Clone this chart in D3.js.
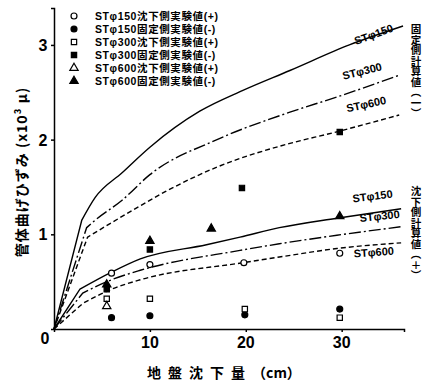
<!DOCTYPE html>
<html>
<head>
<meta charset="utf-8">
<script src="https://cdn.jsdelivr.net/npm/d3@7"></script>
<style>
  body { margin: 0; background: #fff; }
  text { font-family: "Noto Sans CJK JP", "DejaVu Sans", sans-serif; font-weight: bold; fill: #000; }
  .latin { font-family: "Liberation Sans", "Noto Sans CJK JP", sans-serif; }
</style>
</head>
<body>
<div id="chart"></div>
<script>
// calculated curves, [settlement cm, strain x10^3]
var fixST150 = [[0,0],[2.9,1.15],[4.3,1.39],[7.1,1.65],[10,1.92],[15.2,2.3],[19.7,2.52],[24.6,2.73],[30.8,3.0],[36.4,3.2]];
var fixST300 = [[0,0],[3.4,1.07],[4.3,1.15],[7.1,1.36],[10,1.63],[17,2.0],[24.6,2.29],[29.5,2.45],[36,2.68]];
var fixST600 = [[0,0],[3.5,0.97],[5.3,1.08],[8.8,1.29],[11.6,1.45],[17,1.71],[24.6,1.96],[29,2.07],[36,2.26]];
var setST150 = [[0,0],[2.7,0.42],[6,0.6],[9,0.74],[15.9,0.89],[19.4,0.97],[23.5,1.07],[29.5,1.17],[36.2,1.27]];
var setST300 = [[0,0],[3,0.38],[6,0.52],[9,0.62],[19.4,0.83],[23.5,0.9],[29.5,0.99],[36.2,1.08]];
var setST600 = [[0,0],[3,0.27],[6,0.42],[9,0.52],[19.7,0.7],[23.5,0.76],[29.5,0.85],[36.2,0.91]];

// measured values
var expST150set = [[6,0.59],[10,0.68],[19.8,0.7],[29.8,0.8]];
var expST150fix = [[6,0.12],[10,0.14],[19.9,0.15],[29.8,0.21]];
var expST300set = [[5.5,0.32],[10,0.32],[19.9,0.21],[29.8,0.12]];
var expST300fix = [[5.5,0.42],[10,0.84],[19.6,1.49],[29.8,2.08]];
var expST600set = [[5.5,0.24]];
var expST600fix = [[5.5,0.47],[10,0.93],[16.4,1.06],[29.8,1.19]];

var legendLabels = ["STφ150沈下側実験値(+)", "STφ150固定側実験値(-)", "STφ300沈下側実験値(+)",
                    "STφ300固定側実験値(-)", "STφ600沈下側実験値(+)", "STφ600固定側実験値(-)"];
var xTicks = [10, 20, 30];
var yTicks = [1, 2, 3];

var width = 425, height = 383;

var svg = d3.select("#chart").append("svg")
    .attr("width", width)
    .attr("height", height);

var x = d3.scaleLinear().domain([0, 36.5]).range([54, 404]);
var y = d3.scaleLinear().domain([0, 3.39]).range([329, 8]);

// axes
svg.append("g")
    .attr("transform", "translate(0,329)")
    .call(d3.axisBottom(x).tickValues(xTicks).tickSize(3).tickFormat(""))
    .call(function(g) { g.selectAll("path, line").attr("stroke", "#000").attr("stroke-width", 1.5); });

svg.append("g")
    .attr("transform", "translate(54,0)")
    .call(d3.axisLeft(y).tickValues(yTicks).tickSize(3).tickFormat(""))
    .call(function(g) { g.selectAll("path, line").attr("stroke", "#000").attr("stroke-width", 1.5); });

svg.selectAll(".xlab")
    .data(xTicks)
    .enter().append("text")
    .attr("class", "latin")
    .attr("x", function(d) { return x(d); })
    .attr("y", 348)
    .attr("text-anchor", "middle")
    .style("font-size", "16px")
    .text(function(d) { return d; });

svg.selectAll(".ylab")
    .data(yTicks)
    .enter().append("text")
    .attr("class", "latin")
    .attr("x", 43)
    .attr("y", function(d) { return y(d) + 6; })
    .attr("text-anchor", "middle")
    .style("font-size", "16px")
    .text(function(d) { return d; });

svg.append("text").attr("class", "latin").attr("x", 45).attr("y", 344).attr("text-anchor", "middle")
    .style("font-size", "16px").text("0");

// axis titles
var xTitle = svg.append("text")
    .attr("x", 147).attr("y", 378)
    .style("font-size", "14px");
xTitle.append("tspan").style("letter-spacing", "7px").text("地盤沈下量");
xTitle.append("tspan").text("（cm）");

svg.append("text")
    .attr("transform", "translate(27,172) rotate(-90)")
    .attr("text-anchor", "middle")
    .style("font-size", "14px")
    .style("letter-spacing", "1px")
    .text("管体曲げひずみ (x10³  μ)");

// curves: straight rise to the knee, smooth after it
var line = d3.line()
    .x(function(d) { return x(d[0]); })
    .y(function(d) { return y(d[1]); })
    .curve(d3.curveMonotoneX);

function curvePath(data) {
    return "M" + x(data[0][0]) + "," + y(data[0][1]) + "L" + line(data.slice(1)).slice(1);
}

var curves = [
    { data: fixST150, dash: null },
    { data: fixST300, dash: "12,3,2,3" },
    { data: fixST600, dash: "5,3" },
    { data: setST150, dash: null },
    { data: setST300, dash: "12,3,2,3" },
    { data: setST600, dash: "5,3" }
];

svg.selectAll(".curve")
    .data(curves)
    .enter().append("path")
    .attr("class", "curve")
    .attr("fill", "none")
    .attr("stroke", "#000")
    .attr("stroke-width", 1.4)
    .attr("stroke-dasharray", function(d) { return d.dash; })
    .attr("d", function(d) { return curvePath(d.data); });

// markers
var symCircle = d3.symbol().type(d3.symbolCircle).size(28);
var symSquare = d3.symbol().type(d3.symbolSquare).size(28);
var symTri = d3.symbol().type(d3.symbolTriangle).size(30);

var series = [
    { data: expST150set, sym: symCircle, filled: false },
    { data: expST150fix, sym: symCircle, filled: true },
    { data: expST300set, sym: symSquare, filled: false },
    { data: expST300fix, sym: symSquare, filled: true },
    { data: expST600set, sym: symTri, filled: false },
    { data: expST600fix, sym: symTri, filled: true }
];

series.forEach(function(s) {
    svg.selectAll(null)
        .data(s.data)
        .enter().append("path")
        .attr("d", s.sym())
        .attr("transform", function(d) { return "translate(" + x(d[0]) + "," + y(d[1]) + ")"; })
        .attr("fill", s.filled ? "#000" : "#fff")
        .attr("stroke", "#000")
        .attr("stroke-width", 1.2);
});

// legend
var legend = svg.selectAll(".legend")
    .data(series)
    .enter().append("g")
    .attr("transform", function(d, i) { return "translate(74," + (16 + i * 13) + ")"; });

legend.append("path")
    .attr("d", function(d) { return d.sym(); })
    .attr("fill", function(d) { return d.filled ? "#000" : "#fff"; })
    .attr("stroke", "#000")
    .attr("stroke-width", 1.2);

legend.append("text")
    .attr("class", "latin")
    .attr("x", 21)
    .attr("y", 4)
    .style("font-size", "10.5px")
    .style("letter-spacing", "0.6px")
    .text(function(d, i) { return legendLabels[i]; });

// curve labels
var curveLabels = [
    { t: "STφ150", x: 375, y: 38, r: -20 },
    { t: "STφ300", x: 363, y: 75, r: -14 },
    { t: "STφ600", x: 367, y: 108, r: -12 },
    { t: "STφ150", x: 373, y: 200, r: -7 },
    { t: "STφ300", x: 380, y: 220, r: -6 },
    { t: "STφ600", x: 374, y: 256, r: -4 }
];

svg.selectAll(".clab")
    .data(curveLabels)
    .enter().append("text")
    .attr("class", "latin")
    .attr("transform", function(d) { return "translate(" + d.x + "," + d.y + ") rotate(" + d.r + ")"; })
    .attr("text-anchor", "middle")
    .style("font-size", "11px")
    .text(function(d) { return d.t; });

// vertical side notes
var sideNotes = [
    { t: "固定側計算値（一）", y: 24 },
    { t: "沈下側計算値（＋）", y: 186 }
];

svg.selectAll(".side")
    .data(sideNotes)
    .enter().append("text")
    .attr("x", 416)
    .attr("y", function(d) { return d.y; })
    .style("writing-mode", "vertical-rl")
    .style("font-size", "10.5px")
    .text(function(d) { return d.t; });
</script>
</body>
</html>
